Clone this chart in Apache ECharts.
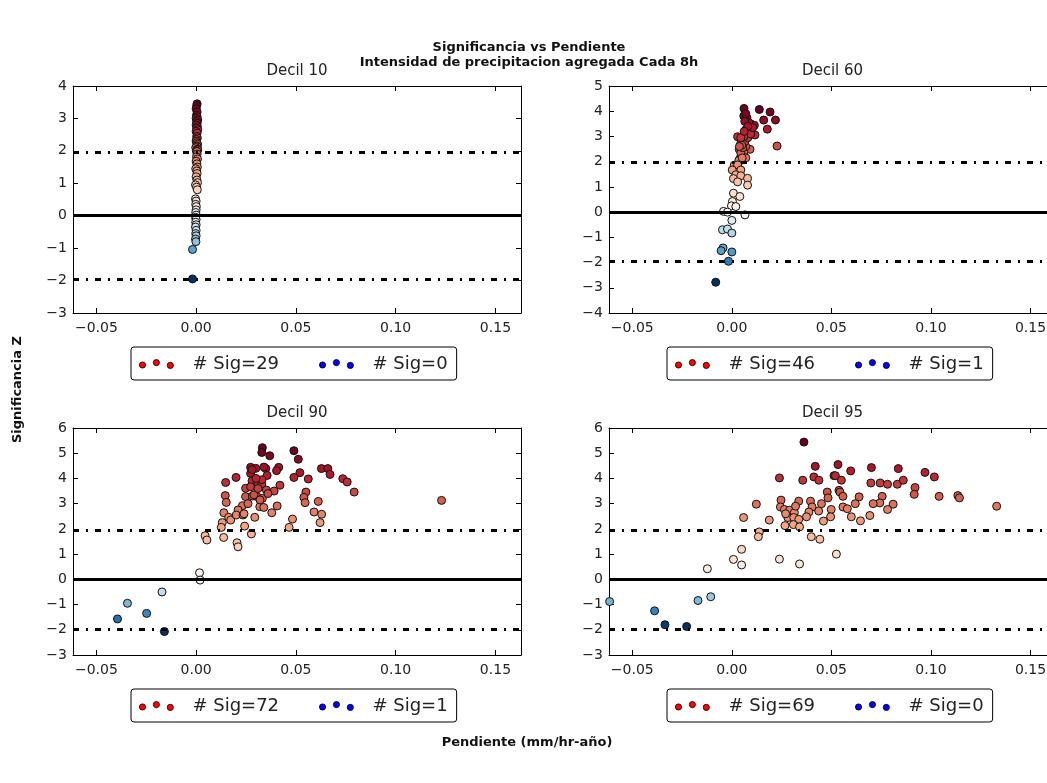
<!DOCTYPE html>
<html>
<head>
<meta charset="utf-8">
<script src="https://cdn.jsdelivr.net/npm/echarts@6/dist/echarts.min.js"></script>
<style>
	html, body { margin: 0; padding: 0; background: #fff; }
	#chart { width: 1047px; height: 783px; }
</style>
</head>
<body>
<div id="chart"></div>
<script>
// [pendiente, significancia Z] por decil
var decil10 = [
	[0.0005, 3.45], [0.0003, 3.4], [0.0, 3.3], [0.0005, 3.2], [0.0002, 3.1], [0.0005, 3.05], [0.0, 3.0],
	[0.0008, 2.95], [0.0003, 2.9], [0.0005, 2.85], [0.0, 2.8], [0.0006, 2.75], [0.0003, 2.7], [0.0008, 2.65],
	[0.0, 2.6], [0.0005, 2.55], [0.0003, 2.45], [0.0006, 2.4], [0.0002, 2.35], [0.0, 2.3], [0.0004, 2.25],
	[0.0007, 2.2], [0.0003, 2.15], [0.0006, 2.12], [-0.0002, 2.1], [0.0005, 2.05], [0.0008, 2.03], [0.0001, 2.0],
	[0.0004, 1.98], [0.0005, 1.9], [0.0002, 1.82], [0.0007, 1.75], [0.0, 1.68], [0.0004, 1.6], [0.0006, 1.5],
	[-0.0002, 1.45], [0.0003, 1.38], [0.0005, 1.3], [0.0, 1.2], [0.0004, 1.1], [0.0007, 1.02], [-0.0003, 0.95],
	[0.0002, 0.88], [0.0006, 0.8], [-0.0003, 0.52], [0.0, 0.45], [-0.0002, 0.35], [0.0001, 0.28], [0.0, 0.18],
	[-0.0002, 0.1], [0.0, 0.02], [-0.0003, -0.05], [0.0, -0.12], [-0.0002, -0.2], [0.0, -0.28], [-0.0003, -0.35],
	[0.0, -0.45], [-0.0002, -0.55], [0.0, -0.62], [-0.0003, -0.72], [-0.0001, -0.8], [-0.0018, -1.04], [-0.0018, -1.95]
];
var decil60 = [
	[0.0061, 4.11], [0.0138, 4.07], [0.0192, 3.97], [0.016, 3.65], [0.0219, 3.65], [0.0178, 3.29], [0.0227, 2.62],
	[0.006, 3.81], [0.0076, 3.74], [0.0096, 3.49], [0.0113, 3.44], [0.0071, 3.28], [0.0029, 2.99], [0.0084, 3.02],
	[0.0116, 3.06], [0.0054, 2.89], [0.0045, 2.73], [0.0091, 2.49], [0.0037, 2.49], [0.0059, 2.31], [0.0045, 2.2],
	[0.0054, 2.07], [0.004, 2.1], [0.005, 2.25], [0.006, 2.4], [0.007, 2.6], [0.0065, 2.8], [0.008, 2.95],
	[0.0075, 3.15], [0.009, 3.3], [0.0085, 3.55], [0.0065, 3.6], [0.0045, 2.35], [0.0055, 2.55], [0.0035, 2.05],
	[0.007, 2.15], [0.0095, 3.1], [0.0105, 3.35], [0.006, 3.0], [0.005, 2.65], [0.008, 3.4], [0.007, 3.9],
	[0.0045, 2.95], [0.0062, 3.2], [0.0038, 2.6], [0.0052, 2.15],
	[0.0012, 1.86], [0.0029, 1.87], [0.0002, 1.67], [0.0045, 1.67], [0.002, 1.48], [0.0045, 1.44], [0.0008, 1.33],
	[0.0079, 1.34], [0.0029, 1.2], [0.0079, 1.07], [0.0008, 0.75], [0.004, 0.62], [0.0003, 0.42], [-0.0002, 0.25],
	[0.002, 0.22], [-0.0042, 0.03], [-0.0022, 0.0], [0.0066, -0.11], [0.0, -0.33], [-0.0047, -0.7], [-0.0022, -0.67],
	[0.0, -0.83], [-0.0044, -1.42], [-0.0054, -1.53], [0.0, -1.58], [-0.0017, -1.95], [-0.0081, -2.78]
];
var decil90 = [
	[0.0332, 5.22], [0.0329, 5.03], [0.0369, 4.9], [0.049, 5.1], [0.0512, 4.76], [0.0273, 4.44], [0.0299, 4.4],
	[0.0349, 4.39], [0.0414, 4.44], [0.0273, 4.2], [0.0356, 4.12], [0.0403, 4.31], [0.052, 4.23], [0.0628, 4.39],
	[0.066, 4.39], [0.0671, 4.16], [0.0735, 3.99], [0.0757, 3.86], [0.0792, 3.46], [0.123, 3.13], [0.049, 4.04],
	[0.0562, 3.98], [0.0148, 3.84], [0.02, 4.04], [0.028, 3.9], [0.0309, 3.84], [0.0329, 3.78], [0.042, 3.73],
	[0.0248, 3.61], [0.0273, 3.67], [0.0352, 3.54], [0.0391, 3.5], [0.055, 3.46], [0.054, 3.25], [0.0546, 3.04],
	[0.0612, 3.09], [0.0146, 3.32], [0.0151, 3.05], [0.0248, 3.28], [0.0282, 3.3], [0.0305, 3.28], [0.0332, 3.21],
	[0.0232, 2.92], [0.0319, 2.88], [0.0339, 2.85], [0.0406, 2.91], [0.0139, 2.64], [0.021, 2.75], [0.0163, 2.46],
	[0.0173, 2.35], [0.0201, 2.55], [0.0235, 2.55], [0.0294, 2.46], [0.0379, 2.64], [0.0591, 2.67], [0.0629, 2.58],
	[0.0621, 2.25], [0.0483, 2.39], [0.0466, 2.06], [0.0131, 2.25], [0.0126, 2.06], [0.0243, 2.11],
	[0.029, 3.35], [0.031, 3.6], [0.033, 3.95], [0.028, 4.35], [0.034, 4.45], [0.032, 3.15], [0.026, 3.0],
	[0.036, 3.4], [0.030, 4.0], [0.024, 2.6],
	[0.0277, 1.8], [0.0045, 1.73], [0.0054, 1.56], [0.0138, 1.66], [0.0205, 1.45], [0.021, 1.29], [0.0017, 0.26],
	[0.002, -0.03], [-0.0171, -0.5], [-0.0344, -0.95], [-0.0248, -1.35], [-0.0394, -1.57], [-0.0159, -2.07]
];
var decil95 = [
	[0.0362, 5.44], [0.0533, 4.55], [0.0419, 4.48], [0.0597, 4.3], [0.0701, 4.43], [0.0836, 4.39], [0.097, 4.24],
	[0.1017, 4.06], [0.0239, 4.02], [0.0356, 3.93], [0.0412, 4.06], [0.0437, 3.93], [0.0513, 4.11], [0.052, 4.11],
	[0.055, 3.93], [0.0698, 3.82], [0.0745, 3.82], [0.0782, 3.77], [0.0831, 3.77], [0.0861, 3.93], [0.092, 3.64],
	[0.0916, 3.37], [0.1041, 3.29], [0.1135, 3.32], [0.1143, 3.23], [0.133, 2.9], [0.0538, 3.53], [0.0543, 3.46],
	[0.0558, 3.29], [0.0479, 3.46], [0.0483, 3.23], [0.0639, 3.27], [0.062, 3.0], [0.0755, 3.29], [0.0743, 3.03],
	[0.071, 3.0], [0.081, 2.98], [0.0782, 2.77], [0.0558, 2.87], [0.058, 2.8], [0.0499, 2.77], [0.06, 2.48],
	[0.0646, 2.32], [0.0693, 2.53], [0.0496, 2.48], [0.046, 2.31], [0.0436, 2.71], [0.0336, 3.1], [0.0395, 3.1],
	[0.0403, 2.87], [0.0387, 2.67], [0.0375, 2.48], [0.0247, 3.14], [0.0244, 2.87], [0.0264, 2.77], [0.029, 2.74],
	[0.0314, 2.65], [0.0281, 2.45], [0.0311, 2.45], [0.0336, 2.38], [0.0267, 2.13], [0.0309, 2.17], [0.034, 2.08],
	[0.0123, 2.98], [0.0059, 2.45], [0.0188, 2.35], [0.027, 2.6], [0.032, 2.9], [0.045, 3.0],
	[0.0138, 1.88], [0.0133, 1.69], [0.0399, 1.69], [0.0442, 1.59], [0.0049, 1.19], [0.0008, 0.79], [0.0049, 0.57],
	[0.0239, 0.8], [0.034, 0.61], [0.0525, 1.0], [-0.0123, 0.42], [-0.017, -0.84], [-0.0106, -0.69],
	[-0.0388, -1.25], [-0.0336, -1.8], [-0.0227, -1.87], [-0.0614, -0.88]
];

var panelTitles = ['Decil 10', 'Decil 60', 'Decil 90', 'Decil 95'];
var panelData = [decil10, decil60, decil90, decil95];
var sigPos = [29, 46, 72, 69];
var sigNeg = [0, 1, 1, 0];
var yMin = [-3, -4, -3, -3];
var yMax = [4, 5, 6, 6];
var xTicks = [-0.05, 0.00, 0.05, 0.10, 0.15];
var sigLevel = 1.96;

var myChart = echarts.init(document.getElementById('chart'));

// RdBu_r
var cmap = ['#053061', '#2166ac', '#4393c3', '#92c5de', '#d1e5f0', '#f7f7f7',
	'#fddbc7', '#f4a582', '#d6604d', '#b2182b', '#67001f'];

function hexRgb(h) {
	return [parseInt(h.substr(1, 2), 16), parseInt(h.substr(3, 2), 16), parseInt(h.substr(5, 2), 16)];
}

function cmapColor(t) {
	t = Math.max(0, Math.min(1, t));
	var p = t * (cmap.length - 1);
	var i = Math.min(Math.floor(p), cmap.length - 2);
	var f = p - i;
	var a = hexRgb(cmap[i]), b = hexRgb(cmap[i + 1]);
	return 'rgb(' + [0, 1, 2].map(function (k) { return Math.round(a[k] + (b[k] - a[k]) * f); }).join(',') + ')';
}

function minus(v) {
	return String(v).replace('-', '\u2212');
}

// tres puntos como en la leyenda de matplotlib
var dotsIcon = 'path://M0.5,6a3,3 0 1,0 6,0a3,3 0 1,0 -6,0Z' +
	'M14,3.7a3,3 0 1,0 6,0a3,3 0 1,0 -6,0Z' +
	'M27.5,6.4a3,3 0 1,0 6,0a3,3 0 1,0 -6,0Z';

var gridPos = [
	{ left: 73, top: 86, width: 448, height: 227 },
	{ left: 609, top: 86, width: 447, height: 227 },
	{ left: 73, top: 428, width: 448, height: 227 },
	{ left: 609, top: 428, width: 447, height: 227 }
];
var legendPos = [[131, 347], [667, 347], [131, 689], [667, 689]];

var labelStyle = { fontFamily: 'DejaVu Sans', fontSize: 14, color: '#222' };

var option = {
	animation: false,
	backgroundColor: '#fff',
	title: [{
		text: 'Significancia vs Pendiente\nIntensidad de precipitacion agregada Cada 8h',
		left: 529,
		top: 40,
		padding: 0,
		textAlign: 'center',
		textStyle: { fontFamily: 'DejaVu Sans', fontSize: 13, fontWeight: 'bold', color: '#111', lineHeight: 15 }
	}, {
		text: 'Pendiente (mm/hr-año)',
		left: 527,
		top: 736,
		padding: 0,
		textAlign: 'center',
		textStyle: { fontFamily: 'DejaVu Sans', fontSize: 13, fontWeight: 'bold', color: '#111' }
	}],
	graphic: [{
		type: 'text',
		left: 11,
		top: 336,
		rotation: Math.PI / 2,
		style: { text: 'Significancia Z', font: 'bold 13px "DejaVu Sans"', fill: '#111' }
	}],
	grid: [],
	xAxis: [],
	yAxis: [],
	legend: [],
	series: []
};

panelData.forEach(function (data, i) {
	var zs = data.map(function (d) { return d[1]; });
	var vmin = Math.min.apply(null, zs), vmax = Math.max.apply(null, zs);
	var g = gridPos[i];

	option.grid.push(Object.assign({ outerBoundsMode: 'none', containLabel: false }, g));
	option.title.push({
		text: panelTitles[i],
		left: g.left + g.width / 2,
		top: g.top - 22,
		padding: 0,
		textAlign: 'center',
		textStyle: { fontFamily: 'DejaVu Sans', fontSize: 15, fontWeight: 'normal', color: '#222' }
	});

	[0, 1].forEach(function (k) {
		option.xAxis.push({
			type: 'value',
			gridIndex: i,
			position: k === 0 ? 'bottom' : 'top',
			min: -0.0617,
			max: 0.1628,
			splitLine: { show: false },
			axisLine: { onZero: false, lineStyle: { color: '#000', width: 1 } },
			axisTick: { inside: true, length: 5, customValues: xTicks, lineStyle: { color: '#000' } },
			axisLabel: k === 0 ? Object.assign({
				customValues: xTicks,
				margin: 8,
				formatter: function (v) { return minus(v.toFixed(2)); }
			}, labelStyle) : { show: false }
		});
		option.yAxis.push({
			type: 'value',
			gridIndex: i,
			position: k === 0 ? 'left' : 'right',
			min: yMin[i],
			max: yMax[i],
			interval: 1,
			splitLine: { show: false },
			axisLine: { onZero: false, lineStyle: { color: '#000', width: 1 } },
			axisTick: { inside: true, length: 5, lineStyle: { color: '#000' } },
			axisLabel: k === 0 ? Object.assign({
				margin: 6,
				formatter: function (v) { return minus(v); }
			}, labelStyle) : { show: false }
		});
	});

	var posName = '# Sig=' + sigPos[i];
	var negName = '# Sig=' + sigNeg[i];

	option.series.push({
		type: 'scatter',
		xAxisIndex: 2 * i,
		yAxisIndex: 2 * i,
		symbolSize: 8,
		clip: true,
		data: data,
		itemStyle: {
			borderColor: '#111',
			borderWidth: 1,
			opacity: 1,
			color: function (p) {
				var z = p.value[1];
				var t = z >= 0 ? 0.5 + 0.5 * z / vmax : 0.5 - 0.5 * z / vmin;
				return cmapColor(t);
			}
		},
		markLine: {
			silent: true,
			symbol: 'none',
			label: { show: false },
			data: [
				{ yAxis: 0, lineStyle: { color: '#000', type: 'solid', width: 3 } },
				{ yAxis: sigLevel, lineStyle: { color: '#000', type: [6, 7, 2, 7], width: 3 } },
				{ yAxis: -sigLevel, lineStyle: { color: '#000', type: [6, 7, 2, 7], width: 3 } }
			]
		}
	});
	option.series.push({
		name: posName, type: 'scatter', xAxisIndex: 2 * i, yAxisIndex: 2 * i, data: [],
		itemStyle: { color: '#ff0000', borderColor: '#000', borderWidth: 0.8, opacity: 1 }
	});
	option.series.push({
		name: negName, type: 'scatter', xAxisIndex: 2 * i, yAxisIndex: 2 * i, data: [],
		itemStyle: { color: '#0000ff', borderColor: '#000', borderWidth: 0.8, opacity: 1 }
	});

	option.legend.push({
		left: legendPos[i][0],
		top: legendPos[i][1],
		orient: 'horizontal',
		selectedMode: false,
		padding: [8, 9, 7, 8],
		itemGap: 40,
		itemWidth: 34,
		itemHeight: 10,
		borderColor: '#000',
		borderWidth: 1,
		borderRadius: 3,
		textStyle: { fontFamily: 'DejaVu Sans', fontSize: 18, color: '#222', padding: [0, 0, 0, 14] },
		data: [
			{ name: posName, icon: dotsIcon, itemStyle: { color: '#ff0000', borderColor: '#000', borderWidth: 0.8, opacity: 1 } },
			{ name: negName, icon: dotsIcon, itemStyle: { color: '#0000ff', borderColor: '#000', borderWidth: 0.8, opacity: 1 } }
		]
	});
});

myChart.setOption(option);
</script>
</body>
</html>
